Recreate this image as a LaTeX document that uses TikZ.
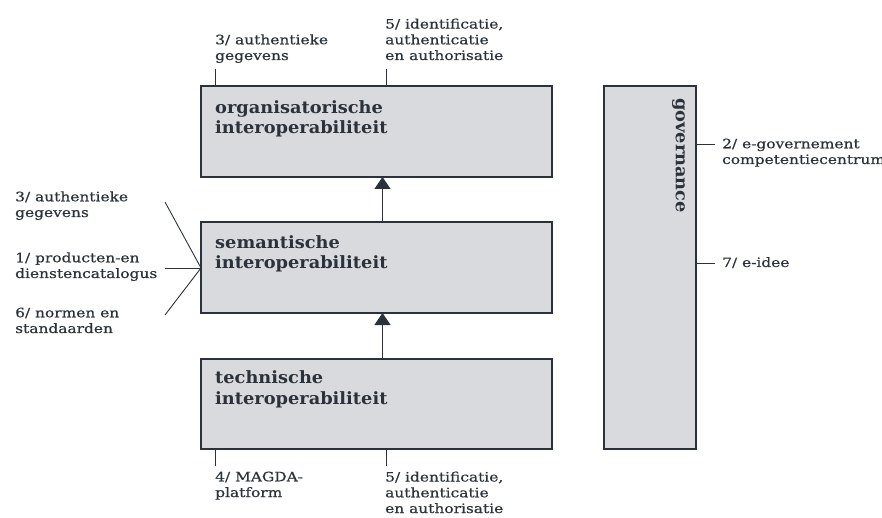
\documentclass[tikz,border=0pt]{standalone}
\usepackage{fontspec}
\setmainfont{DejaVu Serif}
\newfontfamily\notefont[FakeStretch=1.19,FakeBold=0.5]{DejaVu Serif}
\newfontfamily\layerfont[FakeStretch=1.05]{DejaVu Serif Bold}
\usetikzlibrary{arrows.meta}
\definecolor{ink}{HTML}{2B323B}
\definecolor{boxfill}{HTML}{D8DADE}
\begin{document}
\begin{tikzpicture}[x=1bp,y=-1bp,
  layer/.style={draw=ink,line width=1.4bp,fill=boxfill},
  boxlabel/.style={anchor=base west,inner sep=0,align=left,text=ink,
    font=\layerfont\fontsize{17}{21}\selectfont},
  note/.style={anchor=base west,inner sep=0,align=left,text=ink,
    font=\notefont\fontsize{13}{15.8}\selectfont},
  tick/.style={draw=ink,line width=0.9bp},
  up/.style={draw=ink,line width=1.5bp,
    -{Triangle[length=12bp,width=16bp,fill=ink]}}]
\useasboundingbox (0,0) rectangle (882,518);
% layers
\path[layer] (201,86) rectangle (552,177);
\path[layer] (201,222) rectangle (552,313);
\path[layer] (201,359) rectangle (552,449);
\path[layer] (604,86) rectangle (696,449);
\coordinate (org) at (382.5,177);
\coordinate (semTop) at (382.5,222);
\coordinate (semBot) at (382.5,313);
\coordinate (techTop) at (382.5,359);
% labels are anchored at the baseline of their last line
\node[boxlabel] (orgT) at (215,134) {organisatorische\\interoperabiliteit};
\node[boxlabel] (semT) at (215,269) {semantische\\interoperabiliteit};
\node[boxlabel] (techT) at (215,404) {technische\\interoperabiliteit};
\node[text=ink,inner sep=0,anchor=north west,rotate=-90,
  font=\layerfont\fontsize{17}{21}\selectfont] (gov) at (685,98) {governance};
% arrows between layers
\draw[up] (semTop) -- (org);
\draw[up] (techTop) -- (semBot);
% top notes
\node[note] (n3t) at (215,60) {3/ authentieke\\gegevens};
\node[note] (n5t) at (385,60) {5/ identificatie,\\authenticatie\\en authorisatie};
\coordinate (t3a) at (215.5,69); \coordinate (t3b) at (215.5,86);
\coordinate (t5a) at (386.5,69); \coordinate (t5b) at (386.5,86);
\draw[tick] (t3a) -- (t3b);
\draw[tick] (t5a) -- (t5b);
% left notes
\node[note] (n3l) at (15,217) {3/ authentieke\\gegevens};
\node[note] (n1l) at (15,278) {1/ producten-en\\dienstencatalogus};
\node[note] (n6l) at (15,333) {6/ normen en\\standaarden};
\coordinate (hub) at (201,268);
\coordinate (la) at (165,202);
\coordinate (lb) at (165,268);
\coordinate (lc) at (165,315);
\draw[tick] (la) -- (hub);
\draw[tick] (lb) -- (hub);
\draw[tick] (lc) -- (hub);
% governance notes
\node[note] (n2g) at (722,164) {2/ e-governement\\competentiecentrum};
\node[note] (n7g) at (722,267) {7/ e-idee};
\coordinate (g2a) at (696,144.5); \coordinate (g2b) at (715,144.5);
\coordinate (g7a) at (696,263); \coordinate (g7b) at (715,263);
\draw[tick] (g2a) -- (g2b);
\draw[tick] (g7a) -- (g7b);
% bottom notes
\node[note] (n4b) at (215,497) {4/ MAGDA-\\platform};
\node[note] (n5b) at (385,513) {5/ identificatie,\\authenticatie\\en authorisatie};
\coordinate (b4a) at (215.5,449); \coordinate (b4b) at (215.5,466);
\coordinate (b5a) at (386.5,449); \coordinate (b5b) at (386.5,466);
\draw[tick] (b4a) -- (b4b);
\draw[tick] (b5a) -- (b5b);
\end{tikzpicture}
\end{document}
